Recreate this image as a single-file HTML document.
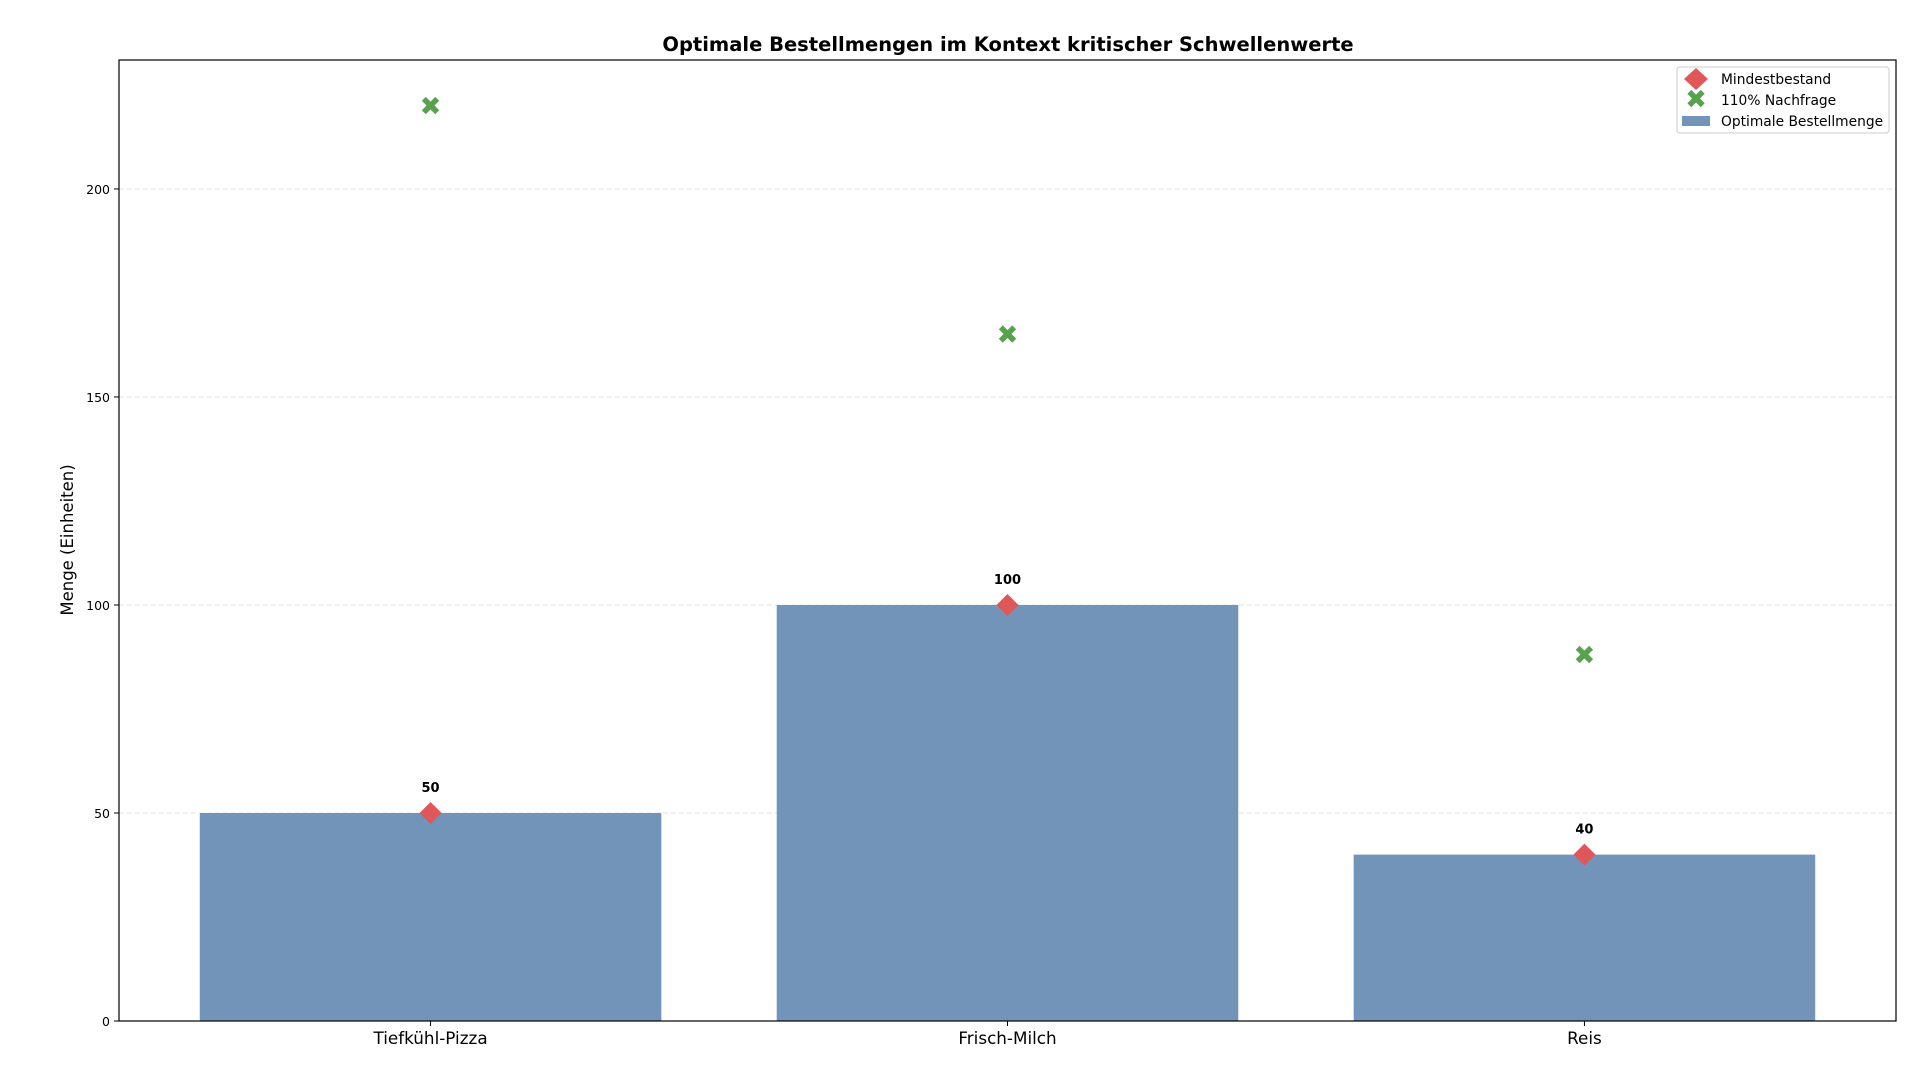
<!DOCTYPE html>
<html><head><meta charset="utf-8"><style>
body{margin:0;background:#fff;}
svg text{font-family:"DejaVu Sans","Liberation Sans",sans-serif;}
</style></head><body>
<svg id="chart" width="1920" height="1087" xmlns="http://www.w3.org/2000/svg">
<rect width="1920" height="1087" fill="#fff"/>
<text x="1008" y="51" text-anchor="middle" font-size="19.5" font-weight="bold">Optimale Bestellmengen im Kontext kritischer Schwellenwerte</text>
<g id="grid"></g>
<g id="bars"></g>
<g id="marks"></g>
<rect x="119" y="60" width="1777" height="961" fill="none" stroke="#000" stroke-width="1.2"/>
<g id="axes"></g>
<text transform="translate(73,540) rotate(-90)" text-anchor="middle" font-size="16.5">Menge (Einheiten)</text>
<g>
<rect x="1677" y="67" width="212" height="66" rx="3" fill="#fff" stroke="#ccc"/>
<path d="M1696,68 L1708,79 L1696,90 L1684,79 Z" fill="#e05759"/>
<text x="1721" y="84" font-size="13.8">Mindestbestand</text>
<text x="1696" y="108" text-anchor="middle" font-size="26" font-weight="bold" fill="#59a14f">✖</text>
<text x="1721" y="105" font-size="13.8">110% Nachfrage</text>
<rect x="1682" y="116" width="28" height="10" fill="#7294b8"/>
<text x="1721" y="126" font-size="13.8">Optimale Bestellmenge</text>
</g>
</svg>
<script>
const categories=["Tiefkühl-Pizza","Frisch-Milch","Reis"];
const orderQty=[50,100,40];
const minStock=[50,100,40];
const demand110=[220,165,88];
const yTicks=[0,50,100,150,200];
const NS="http://www.w3.org/2000/svg";
const L=119,R=1896,T=60,B=1021,xmin=-0.54,xmax=2.54,ymax=231;
const x=i=>L+(i-xmin)/(xmax-xmin)*(R-L);
const y=v=>B-v/ymax*(B-T);
const bw=0.8*(x(1)-x(0));
function mk(tag,a,p,txt){const e=document.createElementNS(NS,tag);for(const k in a)e.setAttribute(k,a[k]);if(txt!==undefined)e.textContent=txt;document.getElementById(p).appendChild(e);return e;}
yTicks.forEach(t=>{
 if(t>0){const g=mk('line',{x1:L,x2:R,y1:y(t),y2:y(t),stroke:'#e2e2e2','stroke-dasharray':'5,3'},'grid');
 
 }
 const tk=mk('line',{x1:L-5,x2:L,y1:y(t),y2:y(t),stroke:'#000'},'axes');
 
 
 const tl=mk('text',{x:L-9,y:y(t)+5,'text-anchor':'end','font-size':12.5},'axes',t);
 
 
});
categories.forEach((c,i)=>{
 const b=mk('rect',{x:x(i)-bw/2,y:y(orderQty[i]),width:bw,height:B-y(orderQty[i]),fill:'#7294b8'},'bars');
 
 
 const vl=mk('text',{x:x(i),y:y(orderQty[i])-21,'text-anchor':'middle','font-size':13,'font-weight':'bold'},'marks',orderQty[i]);
 
 
 const cx=x(i),cy=y(minStock[i]);
 const d=mk('path',{d:`M${cx},${cy-11} L${cx+11},${cy} L${cx},${cy+11} L${cx-11},${cy} Z`,fill:'#e05759'},'marks');
 
 
 const xm=mk('text',{x:x(i),y:y(demand110[i])+9,'text-anchor':'middle','font-size':26,'font-weight':'bold',fill:'#59a14f'},'marks','✖');
 
 
 const tk=mk('line',{x1:x(i),x2:x(i),y1:B,y2:B+5,stroke:'#000'},'axes');
 
 
 const cl=mk('text',{x:x(i),y:B+23,'text-anchor':'middle','font-size':16.8},'axes',c);
 
 
});
</script>
</body></html>
